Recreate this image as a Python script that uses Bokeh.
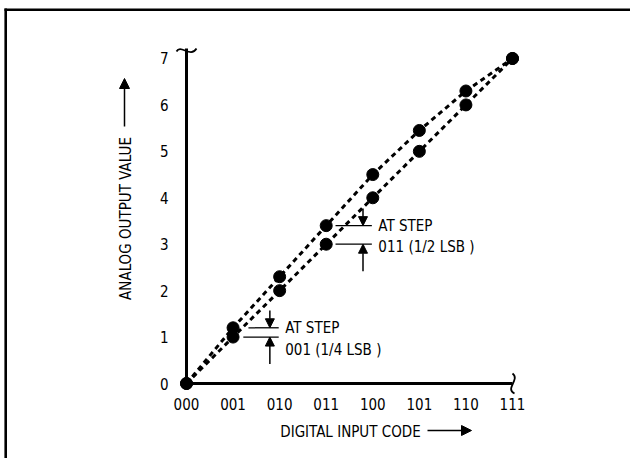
import math
from bokeh.plotting import figure
from bokeh.models import Range1d, Arrow, NormalHead, ColumnDataSource, FixedTicker
from bokeh.core.properties import value
from bokeh.embed import file_html
from bokeh.resources import INLINE

# ---- data ----
codes = ["000", "001", "010", "011", "100", "101", "110", "111"]
code_idx = [0, 1, 2, 3, 4, 5, 6, 7]
ideal_out = [0, 1, 2, 3, 4, 5, 6, 7]
actual_out = [0, 1.2, 2.3, 3.4, 4.5, 5.45, 6.3, 7]
y_ticks = [0, 1, 2, 3, 4, 5, 6, 7]
step_codes = [1, 3]
step_top_text = ["AT STEP", "AT STEP"]
step_bottom_text = ["001 (1/4 LSB )", "011 (1/2 LSB )"]
x_title = "DIGITAL INPUT CODE"
y_title = "ANALOG OUTPUT VALUE"

FONT = "'Liberation Sans Narrow', 'Arial Narrow', 'DejaVu Sans Condensed', sans-serif"

# page-pixel -> data helpers (for decorations only)
X0_PX, Y0_PX, SX, SY = 186.0, 383.0, 46.57, 46.43
def dx(px):
    return (px - X0_PX) / SX
def dy(py):
    return (Y0_PX - py) / SY

W, H = 630, 458
p = figure(width=W, height=H, output_backend="svg", toolbar_location=None,
           x_range=Range1d(dx(0), dx(W)), y_range=Range1d(dy(H), dy(0)),
           min_border=0, min_border_left=0, min_border_right=0,
           min_border_top=0, min_border_bottom=0)
p.grid.visible = False
p.outline_line_color = None
p.background_fill_color = "white"
p.border_fill_color = "white"

for ax in (p.xaxis, p.yaxis):
    ax.fixed_location = 0
    ax.axis_line_color = None
    ax.major_tick_line_color = None
    ax.minor_tick_line_color = None
    ax.major_tick_in = 0
    ax.major_tick_out = 0
    ax.major_label_text_font = FONT
    ax.major_label_text_font_size = "15px"
    ax.major_label_text_color = "black"

p.xaxis.ticker = FixedTicker(ticks=code_idx)
p.xaxis.major_label_overrides = {i: c for i, c in zip(code_idx, codes)}
p.xaxis.major_label_standoff = 14

p.yaxis.ticker = FixedTicker(ticks=y_ticks)
p.yaxis.major_label_standoff = 18

# axis titles
p.text(x=[dx(350)], y=[dy(431)], text=[x_title], text_font=value(FONT),
       text_font_size="15px", text_align="center", text_baseline="middle",
       text_color="black")
p.text(x=[dx(125)], y=[dy(218)], text=[y_title], angle=math.pi / 2,
       text_font=value(FONT), text_font_size="15px", text_align="center",
       text_baseline="middle", text_color="black")

# axis lines
y_top = dy(48)
p.line([0, 0], [0, y_top], line_color="black", line_width=3)
p.line([code_idx[0], code_idx[-1]], [0, 0], line_color="black", line_width=3)
# axis break symbols
p.bezier(x0=[dx(176)], y0=[dy(51)], x1=[dx(196)], y1=[dy(48)],
         cx0=[dx(180)], cy0=[dy(43)], cx1=[dx(190)], cy1=[dy(58)],
         line_color="black", line_width=1.8)
p.bezier(x0=[dx(512)], y0=[dy(373)], x1=[dx(514)], y1=[dy(393)],
         cx0=[dx(520)], cy0=[dy(379)], cx1=[dx(504)], cy1=[dy(388)],
         line_color="black", line_width=1.8)

# transfer functions
p.line(code_idx, ideal_out, line_color="black", line_width=3, line_dash="5 4")
p.line(code_idx, actual_out, line_color="black", line_width=3, line_dash="5 4")
p.scatter(code_idx, ideal_out, size=12, color="black")
p.scatter(code_idx, actual_out, size=12, color="black")

# step annotations
up_y = [actual_out[c] for c in step_codes]
lo_y = [ideal_out[c] for c in step_codes]
seg_src = ColumnDataSource(dict(
    x0=[step_codes[0] + 0.33, step_codes[1] + 0.2, step_codes[0] + 0.22, step_codes[1] + 0.2],
    x1=[c + 0.98 for c in step_codes] * 2,
    y=up_y + lo_y))
p.segment(x0="x0", y0="y", x1="x1", y1="y", source=seg_src,
          line_color="black", line_width=1.3)

for c, u, l in zip(step_codes, up_y, lo_y):
    ax_x = c + 0.79
    p.add_layout(Arrow(x_start=ax_x, y_start=u + 0.37, x_end=ax_x, y_end=u,
                       line_color="black", line_width=1.5,
                       end=NormalHead(size=9, fill_color="black", line_color="black")))
    p.add_layout(Arrow(x_start=ax_x, y_start=l - 0.58, x_end=ax_x, y_end=l,
                       line_color="black", line_width=1.5,
                       end=NormalHead(size=9, fill_color="black", line_color="black")))

txt_x = [c + 1.12 for c in step_codes]
p.text(x=txt_x, y=up_y, text=step_top_text, text_font=value(FONT),
       text_font_size="15px", text_baseline="middle", text_align="left",
       text_color="black")
p.text(x=txt_x, y=[u - 0.47 for u in up_y], text=step_bottom_text, text_font=value(FONT),
       text_font_size="15px", text_baseline="middle", text_align="left",
       text_color="black")

# axis title arrows
p.add_layout(Arrow(x_start=dx(124), y_start=dy(126), x_end=dx(124), y_end=dy(78),
                   line_color="black", line_width=1.5,
                   end=NormalHead(size=10, fill_color="black", line_color="black")))
p.add_layout(Arrow(x_start=dx(427), y_start=dy(430), x_end=dx(471), y_end=dy(430),
                   line_color="black", line_width=1.5,
                   end=NormalHead(size=10, fill_color="black", line_color="black")))

# page border (top and left)
p.segment(x0=[dx(4), dx(5.2)], y0=[dy(9.3), dy(8)], x1=[dx(W + 5), dx(5.2)], y1=[dy(9.3), dy(H + 5)],
          line_color="black", line_width=2.6)

open("out.html", "w").write(file_html(p, INLINE))
